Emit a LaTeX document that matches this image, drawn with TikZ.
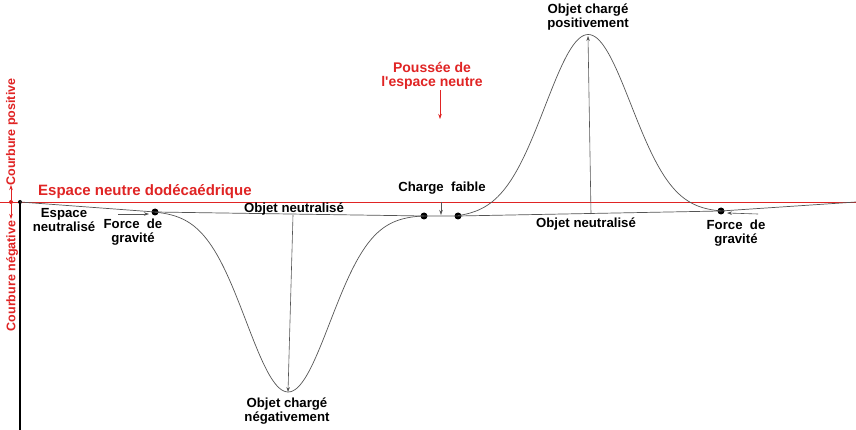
\documentclass[tikz,border=0pt]{standalone}
\usepackage{fontspec}
\setmainfont{Liberation Sans}
\usetikzlibrary{arrows.meta}
\definecolor{myred}{HTML}{E02424}
\definecolor{curvegray}{HTML}{555555}
\tikzset{
  lbl/.style={font=\bfseries\fontsize{13.2}{14}\selectfont, align=center, inner sep=0pt, text=black},
  redlbl/.style={font=\bfseries\fontsize{12.5}{14}\selectfont, align=center, inner sep=0pt, text=myred},
  curve/.style={draw=curvegray, line width=0.7pt},
  blackdot/.style={circle, fill=black, inner sep=0pt, minimum size=7pt},
  smalldot/.style={circle, fill=black, inner sep=0pt, minimum size=4pt},
  arr/.style={draw=curvegray, line width=0.6pt, -{Stealth[length=5pt,width=3.5pt]}},
  redarr/.style={draw=myred, line width=0.6pt, -{Stealth[length=5pt,width=3.5pt]}},
}
\begin{document}
\begin{tikzpicture}[x=1pt,y=-1pt]
\useasboundingbox[fill=white] (0,0) rectangle (856,430);

% red neutral line
\coordinate (rl) at (0,202);
\coordinate (rr) at (856,202);
\draw[myred, line width=0.6pt] (rl) -- (rr);
\node[redlbl, anchor=west, font=\bfseries\fontsize{15}{16}\selectfont] (title) at (38,192) {Espace neutre dodécaédrique};

% left curvature arrows
\node[circle, fill=myred, inner sep=0pt, minimum size=4pt] (rdot) at (11,202) {};
\coordinate (rup) at (11,185);
\coordinate (rdn) at (11,219);
\draw[redarr] (rdot) -- (rup);
\draw[redarr] (rdot) -- (rdn);
\node[redlbl, rotate=90] (cpos) at (12,132) {Courbure positive};
\node[redlbl, rotate=90] (cneg) at (12,276) {Courbure négative};

% vertical axis
\node[smalldot] (d0) at (20,202) {};
\coordinate (axb) at (20,430);
\draw[black, line width=1.3pt] (20,202) -- (axb);

% dots
\node[blackdot] (d1) at (155,212) {};
\node[blackdot] (d2) at (424,216) {};
\node[blackdot] (d3) at (458,216) {};
\node[blackdot] (d4) at (721,211) {};
\coordinate (re) at (856,202);

% base line
\draw[curve] (20,202) -- (d1.center) -- (d2.center) -- (d3.center) -- (d4.center) -- (re);

% negative gaussian
\draw[curve] plot[domain=155:424, samples=120, smooth]
  (\x, {212 + (\x-155)*4/269 + 178*(exp(-0.5*((\x-288)/42)^2)-0.006)/0.994});
% positive gaussian
\draw[curve] plot[domain=458:721, samples=120, smooth]
  (\x, {216 - (\x-458)*5/263 - 179*(exp(-0.5*((\x-588)/43)^2)-0.008)/0.992});

% arrows inside gaussians
\coordinate (nt) at (293,215);
\coordinate (nb) at (288,392);
\draw[arr] (nt) -- (nb);
\coordinate (pb) at (591,214);
\coordinate (pt) at (588,36);
\draw[arr] (pb) -- (pt);

% gravity arrows
\coordinate (g1s) at (118,214);
\coordinate (g1e) at (149,214);
\draw[arr] (g1s) -- (g1e);
\coordinate (g2s) at (758,214);
\coordinate (g2e) at (727,213);
\draw[arr] (g2s) -- (g2e);

% weak charge arrow
\coordinate (cfs) at (441,202);
\coordinate (cfe) at (441,215);
\draw[arr] (cfs) -- (cfe);

% push of neutral space
\coordinate (ps) at (440,90);
\coordinate (pe) at (440,119);
\draw[redarr] (ps) -- (pe);
\node[redlbl, font=\bfseries\fontsize{14}{14}\selectfont] (push) at (432,76) {Poussée de\\l\textquotesingle espace neutre};

% labels
\node[lbl] (espn) at (64,220) {Espace\\neutralisé};
\node[lbl] (fg1) at (133,232) {Force~~de\\gravité};
\node[lbl] (on1) at (294,209) {Objet neutralisé};
\node[lbl] (cf) at (442,188) {Charge~~faible};
\node[lbl] (ocp) at (588,17) {Objet chargé\\positivement};
\node[lbl] (on2) at (586,224) {Objet neutralisé};
\node[lbl] (fg2) at (736,233) {Force~~de\\gravité};
\node[lbl] (ocn) at (287,411) {Objet chargé\\négativement};
\end{tikzpicture}
\end{document}
